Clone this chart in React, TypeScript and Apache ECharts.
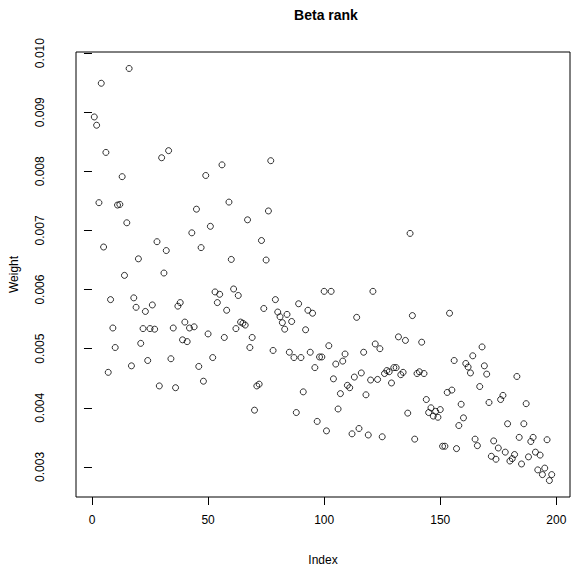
import React, { useEffect, useRef } from "react";
import * as echarts from "echarts";

const TITLE = "Beta rank";
const X_NAME = "Index";
const Y_NAME = "Weight";
const X_TICKS = [0, 50, 100, 150, 200];
const Y_TICKS = [0.003, 0.004, 0.005, 0.006, 0.007, 0.008, 0.009, 0.01];

const WEIGHTS = [
  0.00892, 0.00878, 0.00747, 0.00949, 0.00672, 0.00832, 0.0046, 0.00583, 0.00535, 0.00502,
  0.00743, 0.00744, 0.00791, 0.00624, 0.00713, 0.00974, 0.00471, 0.00586, 0.0057, 0.00652,
  0.00509, 0.00534, 0.00563, 0.0048, 0.00534, 0.00574, 0.00533, 0.00681, 0.00437, 0.00823,
  0.00628, 0.00666, 0.00835, 0.00483, 0.00535, 0.00434, 0.00572, 0.00578, 0.00515, 0.00545,
  0.00512, 0.00535, 0.00696, 0.00537, 0.00736, 0.0047, 0.00671, 0.00445, 0.00793, 0.00525,
  0.00707, 0.00485, 0.00596, 0.00578, 0.00592, 0.00811, 0.00519, 0.00565, 0.00748, 0.00651,
  0.00601, 0.00534, 0.0059, 0.00545, 0.00543, 0.0054, 0.00718, 0.00502, 0.00519, 0.00396,
  0.00437, 0.0044, 0.00683, 0.00568, 0.0065, 0.00733, 0.00818, 0.00497, 0.00583, 0.00562,
  0.00554, 0.00544, 0.00533, 0.00558, 0.00494, 0.00546, 0.00485, 0.00392, 0.00576, 0.00485,
  0.00427, 0.00532, 0.00565, 0.00494, 0.0056, 0.00468, 0.00377, 0.00486, 0.00486, 0.00597,
  0.00361, 0.00505, 0.00597, 0.00449, 0.00474, 0.00398, 0.00424, 0.00479, 0.00491, 0.00438,
  0.00434, 0.00356, 0.00452, 0.00553, 0.00365, 0.00459, 0.00494, 0.00422, 0.00354, 0.00447,
  0.00597, 0.00508, 0.00448, 0.005, 0.00351, 0.00458, 0.00463, 0.00461, 0.00442, 0.00468,
  0.00468, 0.0052, 0.00456, 0.0046, 0.00514, 0.00391, 0.00695, 0.00556, 0.00347, 0.00458,
  0.00461, 0.00511, 0.00458, 0.00414, 0.00392, 0.004, 0.00386, 0.00394, 0.00384, 0.00397,
  0.00335, 0.00335, 0.00426, 0.0056, 0.0043, 0.0048, 0.00331, 0.0037, 0.00406, 0.00383,
  0.00475, 0.00469, 0.00459, 0.00488, 0.00347, 0.00336, 0.00436, 0.00503, 0.00471, 0.00457,
  0.00409, 0.00318, 0.00344, 0.00313, 0.00332, 0.00414, 0.00421, 0.00325, 0.00373, 0.0031,
  0.00314, 0.00321, 0.00453, 0.0035, 0.00305, 0.00373, 0.00407, 0.00317, 0.00343, 0.0035,
  0.00325, 0.00295, 0.0032, 0.00287, 0.00298, 0.00346, 0.00277, 0.00287,
];

const FONT = "'Liberation Sans', Arial, Helvetica, sans-serif";

export default function App() {
  const ref = useRef<HTMLDivElement>(null);
  useEffect(() => {
    if (!ref.current) return;
    const chart = echarts.init(ref.current, undefined, { renderer: "svg" });
    const n = WEIGHTS.length;
    const xPad = (n - 1) * 0.04;
    const yMinV = Math.min(...WEIGHTS);
    const yMaxV = Math.max(...WEIGHTS);
    const yPad = (yMaxV - yMinV) * 0.04;
    const data = WEIGHTS.map((w, i) => [i + 1, w]);
    chart.setOption({
      animation: false,
      backgroundColor: "#ffffff",
      title: {
        text: TITLE,
        left: 321,
        textAlign: "center",
        top: 3,
        textStyle: { fontFamily: FONT, fontSize: 14, fontWeight: "bold", color: "#000" },
      },
      grid: {
        left: 73,
        top: 52,
        width: 497,
        height: 445,
        show: true,
        borderColor: "#000",
        borderWidth: 1,
        backgroundColor: "transparent",
      },
      xAxis: {
        type: "value",
        min: 1 - xPad,
        max: n + xPad,
        name: X_NAME,
        nameLocation: "middle",
        nameGap: 57,
        nameTextStyle: { fontFamily: FONT, fontSize: 12, color: "#000" },
        splitLine: { show: false },
        axisLine: { show: false },
        axisTick: { show: true, length: 8, lineStyle: { color: "#000" }, customValues: X_TICKS },
        axisLabel: {
          fontFamily: FONT,
          fontSize: 12,
          color: "#000",
          margin: 17,
          customValues: X_TICKS,
          formatter: (v: number) => String(v),
        },
      },
      yAxis: {
        type: "value",
        min: yMinV - yPad,
        max: yMaxV + yPad,
        name: Y_NAME,
        nameLocation: "middle",
        nameRotate: 90,
        nameGap: 56,
        nameTextStyle: { fontFamily: FONT, fontSize: 12, color: "#000" },
        splitLine: { show: false },
        axisLine: { show: false },
        axisTick: { show: true, length: 8, lineStyle: { color: "#000" }, customValues: Y_TICKS },
        axisLabel: {
          fontFamily: FONT,
          fontSize: 12,
          color: "#000",
          rotate: 90,
          margin: 30,
          customValues: Y_TICKS,
          formatter: (v: number) => v.toFixed(3),
        },
      },
      series: [
        {
          type: "scatter",
          data,
          symbol: "circle",
          symbolSize: 6,
          itemStyle: { color: "rgba(0,0,0,0)", borderColor: "#000", borderWidth: 1 },
        },
      ],
    });
    return () => chart.dispose();
  }, []);
  return (
    <div
      ref={ref}
      style={{ position: "fixed", left: 0, top: 0, width: 572, height: 571 }}
    />
  );
}
